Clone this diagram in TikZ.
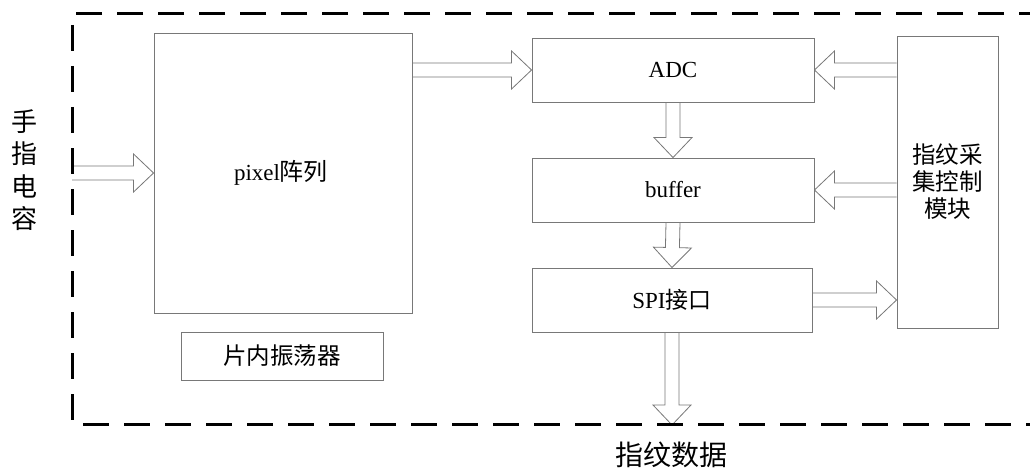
\documentclass[tikz,border=0pt]{standalone}
\usepackage{fontspec}
\setmainfont{Liberation Serif}
\newfontfamily\cjk{Noto Sans CJK SC}
\usetikzlibrary{calc}
\pgfdeclarelayer{bg}
\pgfsetlayers{bg,main}
\definecolor{boxline}{RGB}{120,120,120}
\tikzset{
  blk/.style={draw=boxline, line width=0.9pt, fill=white, inner sep=0pt},
  fatarrow/.style={draw=boxline, line width=0.8pt, fill=white, line join=miter},
  frame/.style={line width=3pt, dash pattern=on 26pt off 15pt},
  lbl/.style={font=\fontsize{23}{26}\selectfont},
}
\newcommand\fatarr[2]{%
  \coordinate (fa-h) at ($(#2)!20pt!(#1)$);
  \begin{pgfonlayer}{bg}
  \draw[fatarrow] ($(#1)!7pt!90:(#2)$) -- ($(fa-h)!7pt!90:(#2)$) -- ($(fa-h)!19pt!90:(#2)$) -- (#2)
     -- ($(fa-h)!19pt!-90:(#2)$) -- ($(fa-h)!7pt!-90:(#2)$) -- ($(#1)!7pt!-90:(#2)$);
  \end{pgfonlayer}
}
\begin{document}
\begin{tikzpicture}[x=1pt,y=-1pt]
\useasboundingbox (0,0) rectangle (1030,468);
% frame
\draw[frame] (1045,14) -- (72,14) -- (72,424) -- (1045,424);
% boxes
\node[blk, minimum width=258pt, minimum height=280pt] (pix) at (283,173) {};
\node[font=\fontsize{23}{26}\selectfont] (pixt) at (281,173) {pixel{\cjk\fontsize{24}{26}\selectfont 阵列}};
\node[blk, minimum width=202pt, minimum height=48pt, font=\cjk\fontsize{23.5}{26}\selectfont] (osc) at (282,356) {片内振荡器};
\node[blk, minimum width=282pt, minimum height=64pt, lbl] (adc) at (673,70) {ADC};
\node[blk, minimum width=282pt, minimum height=64pt, lbl] (buf) at (673,190) {buffer};
\node[blk, minimum width=280pt, minimum height=64pt, lbl] (spi) at (672,300) {SPI{\cjk 接口}};
\node[blk, minimum width=101pt, minimum height=292pt] (ctl) at (947.5,182) {};
\node[align=center, font=\cjk\fontsize{23.5}{27}\selectfont] (ctlt) at (947.5,182) {指纹采\\集控制\\模块};
% labels
\node[align=center, font=\cjk\fontsize{26}{32.5}\selectfont] (finger) at (25,170) {手\\指\\电\\容};
\node[font=\cjk\fontsize{28}{32}\selectfont] (out) at (671,455) {指纹数据};
% connector coordinates
\coordinate (fin) at (72,173);
\coordinate (outp) at (spi.south |- 0,425);
% arrows
\fatarr{fin}{pix.west}
\fatarr{pix.east |- adc.west}{adc.west}
\fatarr{ctl.west |- adc.east}{adc.east}
\fatarr{ctl.west |- buf.east}{buf.east}
\fatarr{adc.south}{buf.north}
\fatarr{buf.south}{spi.north}
\fatarr{spi.east}{ctl.west |- spi.east}
\fatarr{spi.south}{outp}
\end{tikzpicture}
\end{document}
